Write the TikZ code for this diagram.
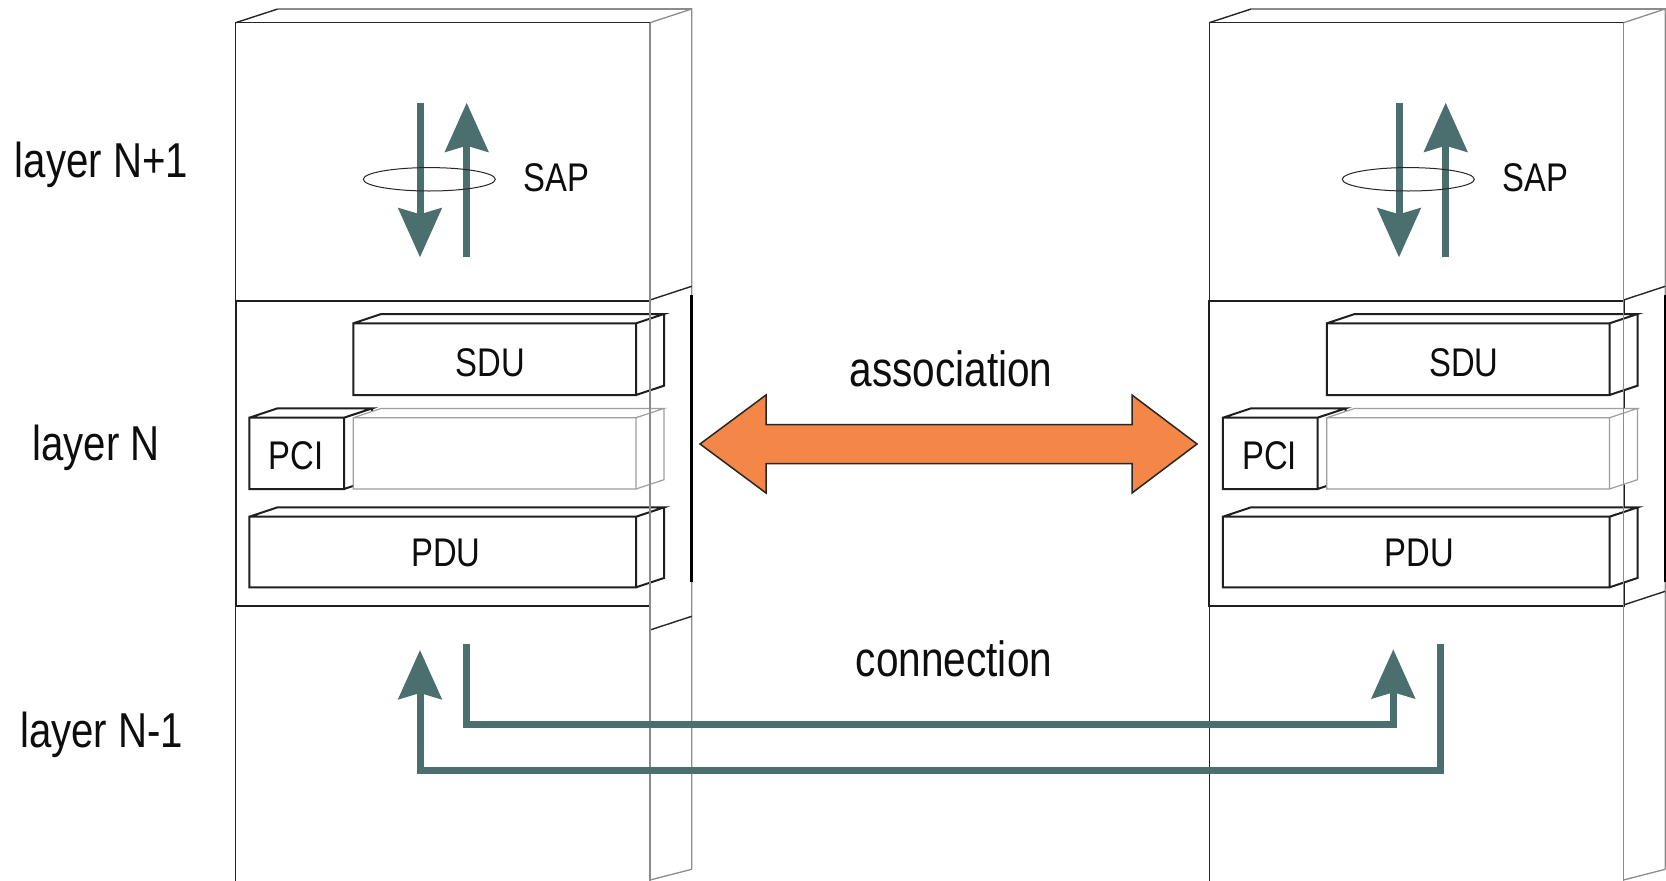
\documentclass[tikz,border=0pt]{standalone}
\usepackage{fontspec}
\newfontfamily\lab{Liberation Sans}[FakeStretch=0.82]
\usetikzlibrary{arrows.meta,shapes.geometric}
\definecolor{sapteal}{RGB}{75,111,110}
\definecolor{assocorange}{RGB}{244,134,72}
\definecolor{edgegray}{RGB}{140,140,140}

% 3D box: #1 style, (#2,#3) top-left front, (#4,#5) bottom-right front
\newcommand\dbox[5]{%
  \fill[white] (#2,#3) -- ++(28,-9.3) -- (#4+28,#3-9.3) -- (#4+28,#5-9.3) -- (#4,#5) -- (#2,#5) -- cycle;
  \draw[#1] (#2,#3) rectangle (#4,#5)
    (#2,#3) -- ++(28,-9.3) -- (#4+28,#3-9.3) -- (#4,#3)
    (#4+28,#3-9.3) -- (#4+28,#5-9.3) -- (#4,#5);
}

% pillar with layer boxes: #1 x-shift, #2 suffix, #3 y of lower side diagonal
\newcommand\stackcol[3]{%
\begin{scope}[xshift=#1pt]
  % pillar outline
  \draw[frontedge] (235.7,881) -- (235.7,22.7) -- (650,22.7);
  \draw[frontedge] (235.7,22.7) -- (277.7,9);
  \draw[backedge] (277.7,9) -- (691.7,9);
  \draw[backedge] (650,22.7) -- (691.7,9) -- (691.7,869.3);
  \draw[frontedge] (650,300) -- (691.7,286.3);
  \draw[frontedge] (650,#3) -- (691.7,#3-13.7);
  \draw[backedge] (650,880) -- (691.7,869.3);
  \draw[line width=2.6pt] (691.7,295) -- (691.7,582);
  % layer N box
  \draw[unitline] (235.7,300.7) rectangle (650,606);
  % data units
  \dbox{unitline}{353.3}{323.3}{636}{395}
  \dbox{unitline}{249.3}{417.7}{344}{489}
  \dbox{ghostline}{353.3}{417.7}{636}{489}
  \dbox{unitline}{249.3}{516.7}{636}{587.3}
  \draw[backedge] (650,22.7) -- (650,881);
  \node[boxtext] (sdu#2) at (490.3,376) {SDU};
  \node[boxtext] (pci#2) at (296.2,469.3) {PCI};
  \node[boxtext] (pdu#2) at (445.8,566) {PDU};
\end{scope}}

% SAP arrows: #1 x-shift, #2 suffix
\newcommand\sapgroup[2]{%
\begin{scope}[xshift=#1pt]
  \coordinate (dtop#2) at (420,102.7);
  \coordinate (dtip#2) at (420,257.3);
  \coordinate (ubot#2) at (466.7,257.3);
  \coordinate (utip#2) at (466.7,102.7);
  \draw[flow] (dtop#2) -- (dtip#2);
  \draw[flow] (ubot#2) -- (utip#2);
  \node[draw=black!85, line width=1pt, ellipse, minimum width=132pt, minimum height=23.4pt, inner sep=0pt] (sapring#2) at (429.3,179.3) {};
  \node[boxtext] (sap#2) at (556.7,191.7) {SAP};
\end{scope}}

\begin{document}
\begin{tikzpicture}[x=1pt,y=-1pt,
  frontedge/.style={draw=black!85, line width=1.4pt},
  backedge/.style={draw=edgegray, line width=1.3pt},
  unitline/.style={draw=black!88, line width=2pt},
  ghostline/.style={draw=black!38, line width=1.2pt},
  flow/.style={draw=sapteal, line width=7pt, -{Stealth[length=49pt,width=43pt,inset=6pt]}},
  lbl/.style={font={\lab\fontsize{49}{54}\selectfont}, inner sep=0pt, anchor=base, text=black!95},
  boxtext/.style={font={\lab\fontsize{40}{45}\selectfont}, inner sep=0pt, anchor=base, text=black!95},
  midtext/.style={font={\lab\fontsize{49.5}{54}\selectfont}, inner sep=0pt, anchor=base, text=black!95}]
\useasboundingbox (0,0) rectangle (1666,881);
\fill[white] (0,0) rectangle (1666,881);

\stackcol{0}{L}{630}
\stackcol{973.5}{R}{605}
\sapgroup{0}{L}
\sapgroup{979}{R}

% layer labels
\node[lbl] (layerA) at (101.5,177.3) {layer N+1};
\node[lbl] (layerB) at (96,460.7) {layer N};
\node[lbl] (layerC) at (101.7,747.3) {layer N-1};

% association
\coordinate (assocL) at (700,444);
\coordinate (assocR) at (1197,444);
\draw[fill=assocorange, draw=black!85, line width=1.5pt, line join=miter]
  (assocL) -- ++(66,-49) -- ++(0,29.5) -- ++(366,0) -- ++(0,-29.5) -- (assocR)
  -- ++(-65,49) -- ++(0,-29.5) -- ++(-366,0) -- ++(0,29.5) -- cycle;
\node[midtext] (assoc) at (951,386.7) {association};

% connection
\coordinate (c1start) at (466.7,644);
\coordinate (c1end) at (1393.3,649.3);
\coordinate (c2start) at (1440.7,644.3);
\coordinate (c2end) at (420,650);
\draw[flow] (c1start) -- (466.7,724.3) -- (1393.3,724.3) -- (c1end);
\draw[flow] (c2start) -- (1440.7,770.7) -- (420,770.7) -- (c2end);
\node[midtext] (conn) at (954,676.7) {connection};
\end{tikzpicture}
\end{document}
